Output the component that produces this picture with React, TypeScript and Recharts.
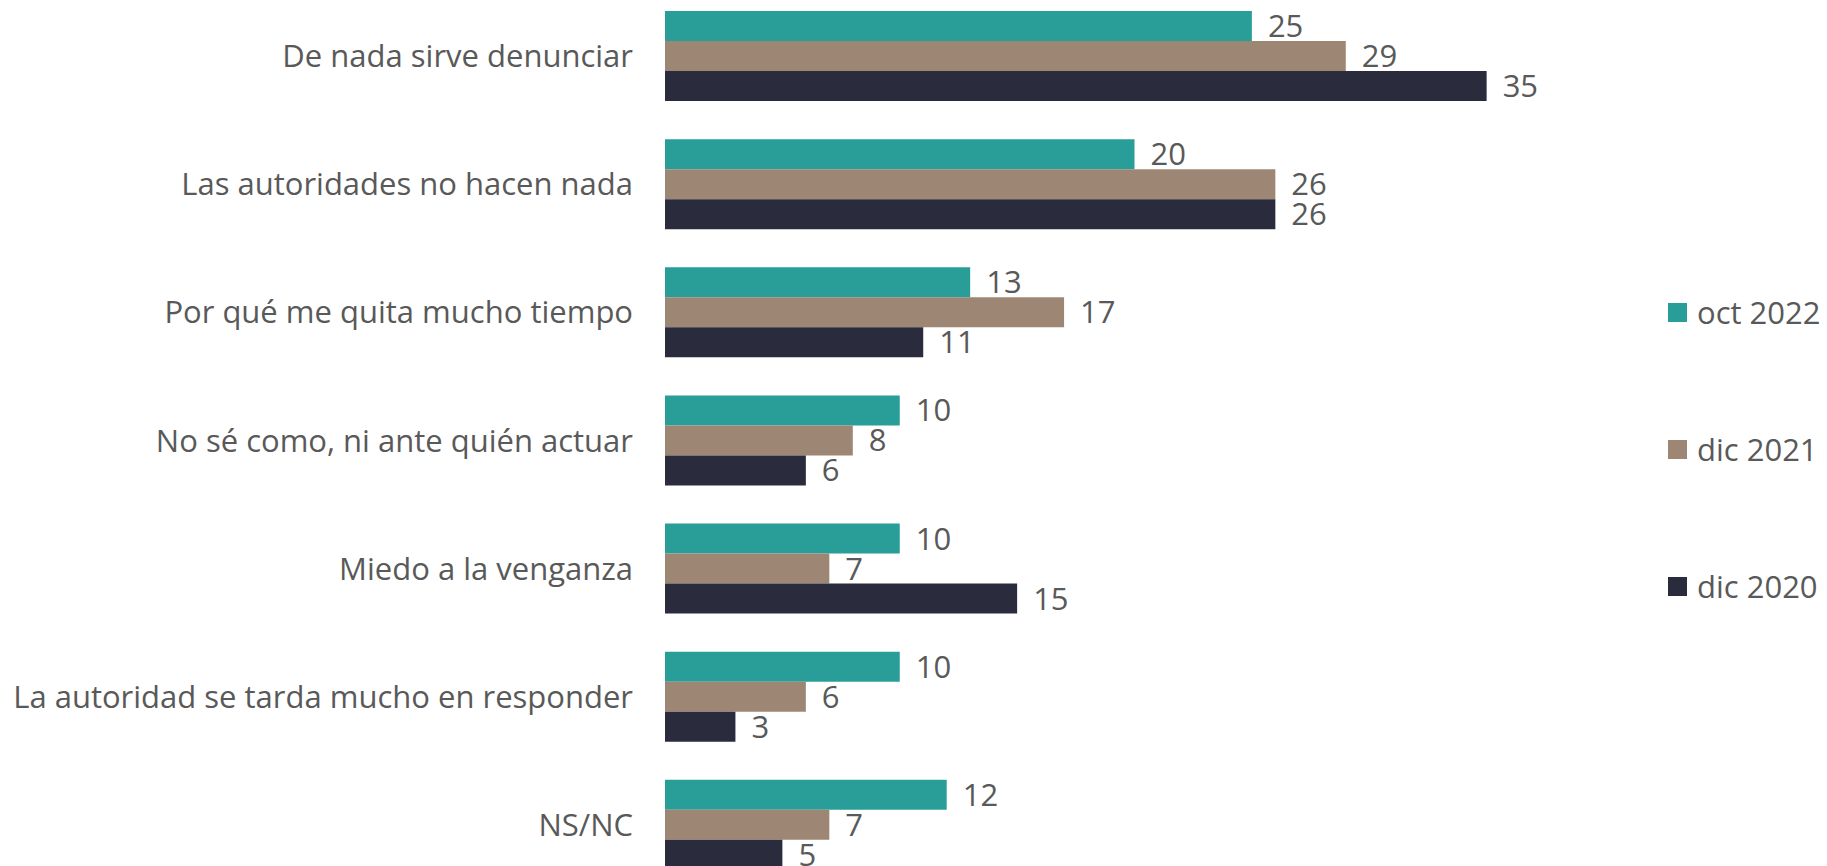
import React from 'react';
import { BarChart, Bar, XAxis, YAxis, Legend, LabelList } from 'recharts';

const categories = [
  'De nada sirve denunciar',
  'Las autoridades no hacen nada',
  'Por qué me quita mucho tiempo',
  'No sé como, ni ante quién actuar',
  'Miedo a la venganza',
  'La autoridad se tarda mucho en responder',
  'NS/NC',
];
const oct2022 = [25, 20, 13, 10, 10, 10, 12];
const dic2021 = [29, 26, 17, 8, 7, 6, 7];
const dic2020 = [35, 26, 11, 6, 15, 3, 5];

const seriesNames = ['oct 2022', 'dic 2021', 'dic 2020'];
const colors = ['#299E98', '#9E8675', '#2A2B3D'];

const data = categories.map((c, i) => ({
  name: c,
  oct2022: oct2022[i],
  dic2021: dic2021[i],
  dic2020: dic2020[i],
}));

const FONT = '"Open Sans", sans-serif';
const TEXT = '#595959';
const FS = 31;

const renderLegend = (props: any) => {
  const payload = [...(props.payload || [])].sort(
    (a: any, b: any) => seriesNames.indexOf(a.value) - seriesNames.indexOf(b.value)
  );
  return (
    <div style={{ fontFamily: FONT, fontSize: FS, color: TEXT }}>
      {payload.map((p: any, i: number) => (
        <div key={i} style={{ display: 'flex', alignItems: 'center', height: 137 }}>
          <span style={{ display: 'inline-block', width: 19, height: 19, background: p.color, marginRight: 10 }} />
          <span style={{ lineHeight: 1, whiteSpace: 'nowrap' }}>{p.value}</span>
        </div>
      ))}
    </div>
  );
};

export default function App() {
  return (
    <div style={{ position: 'fixed', left: 0, top: 0, width: 1827, height: 866, overflow: 'hidden', background: '#fff' }}>
      <div style={{ position: 'absolute', left: 0, top: -8 }}>
        <BarChart
          width={1827}
          height={897}
          layout="vertical"
          data={data}
          margin={{ top: 0, right: 63, bottom: 0, left: 0 }}
          barGap={0}
          barSize={30}
        >
          <XAxis type="number" domain={[0, 40]} hide />
          <YAxis
            type="category"
            dataKey="name"
            width={665}
            axisLine={false}
            tickLine={false}
            tickSize={0}
            tickMargin={32}
            interval={0}
            tick={{ fill: TEXT, fontSize: FS, fontFamily: FONT }}
          />
          <Legend
            layout="vertical"
            align="right"
            verticalAlign="top"
            content={renderLegend}
            wrapperStyle={{ left: 1668, top: 252, width: 160 }}
          />
          <Bar dataKey="oct2022" name={seriesNames[0]} fill={colors[0]} isAnimationActive={false}>
            <LabelList dataKey="oct2022" position="right" offset={16} fill={TEXT} fontSize={FS} fontFamily={FONT} />
          </Bar>
          <Bar dataKey="dic2021" name={seriesNames[1]} fill={colors[1]} isAnimationActive={false}>
            <LabelList dataKey="dic2021" position="right" offset={16} fill={TEXT} fontSize={FS} fontFamily={FONT} />
          </Bar>
          <Bar dataKey="dic2020" name={seriesNames[2]} fill={colors[2]} isAnimationActive={false}>
            <LabelList dataKey="dic2020" position="right" offset={16} fill={TEXT} fontSize={FS} fontFamily={FONT} />
          </Bar>
        </BarChart>
      </div>
    </div>
  );
}
